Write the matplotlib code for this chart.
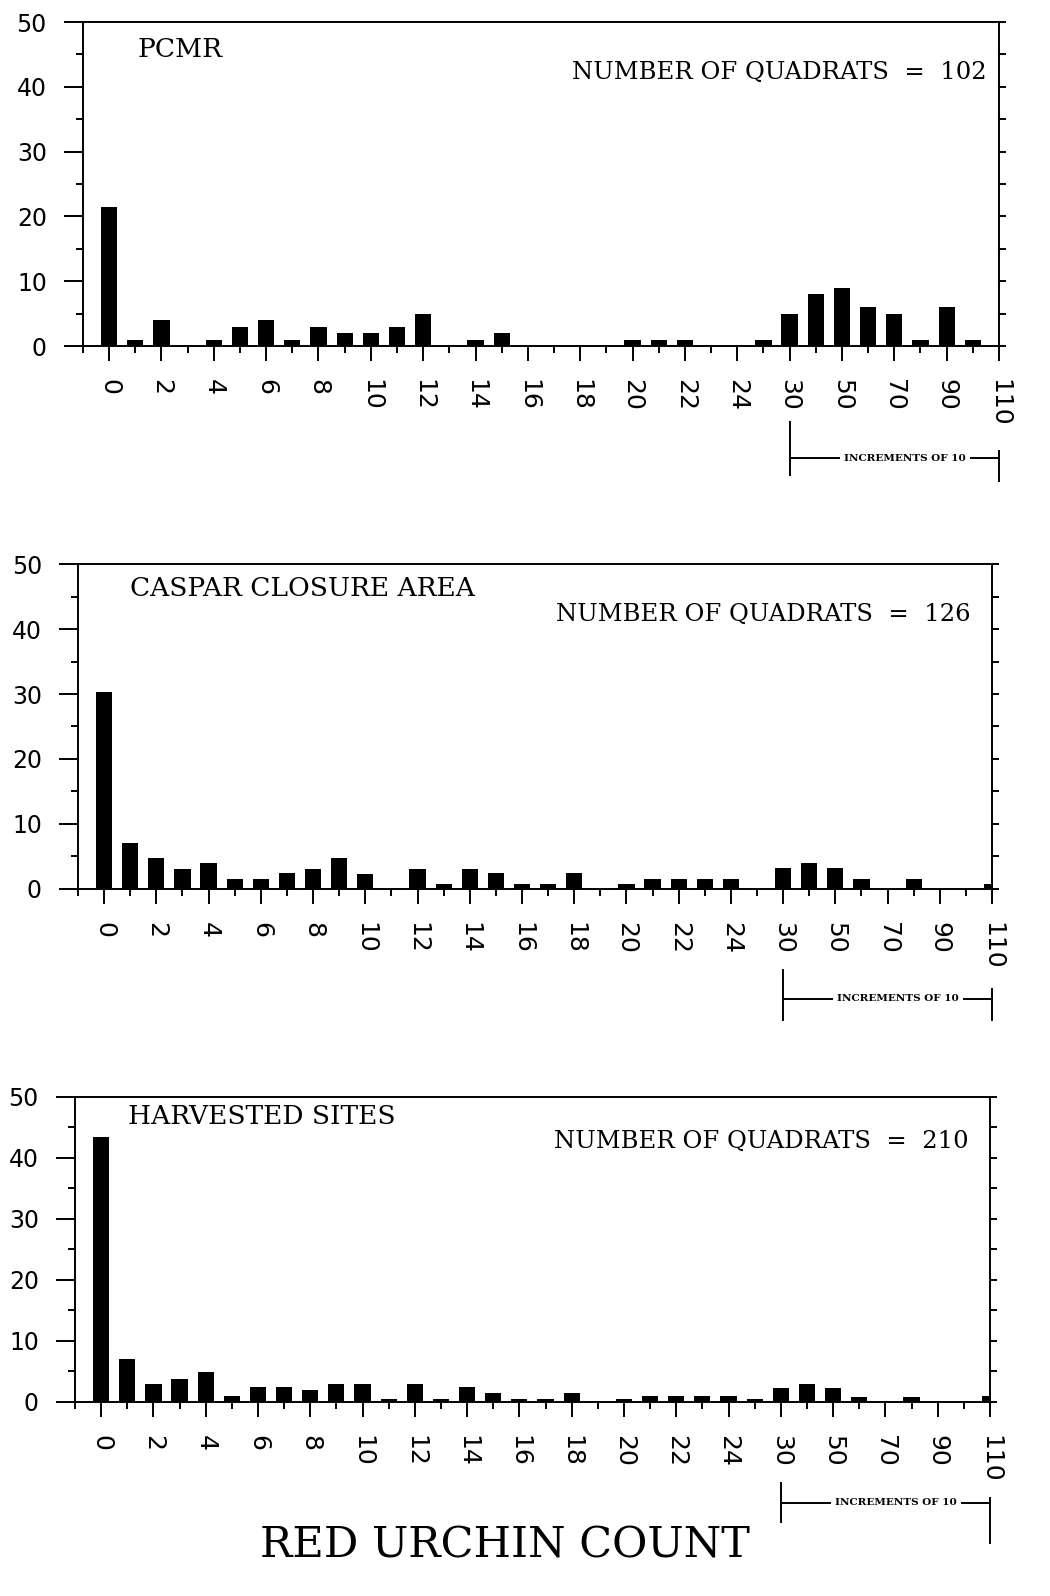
import numpy as np
import matplotlib
matplotlib.use('Agg')
import matplotlib.pyplot as plt
from matplotlib.transforms import blended_transform_factory

# red urchin count classes: 0..25 singly, then 30..110 in tens
counts = [str(i) for i in range(26)] + [str(v) for v in range(30, 111, 10)]

pcmr = [21.5, 1, 4, 0, 1, 3, 4, 1, 3, 2,
        2, 3, 5, 0, 1, 2, 0, 0, 0, 0,
        1, 1, 1, 0, 0, 1,
        5, 8, 9, 6, 5, 1, 6, 1, 0]
caspar = [30.3, 7.0, 4.7, 3.1, 4.0, 1.6, 1.6, 2.4, 3.1, 4.8,
          2.3, 0, 3.1, 0.8, 3.1, 2.4, 0.8, 0.8, 2.4, 0,
          0.8, 1.6, 1.6, 1.6, 1.6, 0,
          3.2, 4.0, 3.2, 1.6, 0, 1.6, 0, 0, 0.8]
harvested = [43.5, 7.1, 3.0, 3.8, 4.9, 1.0, 2.4, 2.4, 1.9, 3.0,
             2.9, 0.5, 3.0, 0.5, 2.4, 1.4, 0.5, 0.5, 1.4, 0,
             0.5, 0.9, 0.9, 0.9, 0.9, 0.4,
             2.3, 2.9, 2.3, 0.8, 0, 0.8, 0, 0, 0.9]

panel_names = ['PCMR', 'CASPAR CLOSURE AREA', 'HARVESTED SITES']
quadrats = [102, 126, 210]
series = [pcmr, caspar, harvested]

fig = plt.figure(figsize=(10.5, 15.96), dpi=100)
FH = 1596.0

# [left, bottom, width, height] in figure fraction
rects = [[0.079, 0.7832, 0.8724, 0.2030],
         [0.0743, 0.4430, 0.8705, 0.2036],
         [0.0714, 0.1216, 0.8714, 0.1911]]
name_pos = [(0.060, 0.915), (0.057, 0.925), (0.058, 0.935)]
quad_pos = [(0.986, 0.845), (0.977, 0.845), (0.977, 0.855)]
# bracket offsets below the axis, in pixels
brk = [(76, 129, 112, 105, 135), (81, 131, 110, 100, 131), (81, 120, 101, 96, 141)]

sans = 'DejaVu Sans'
serif = 'DejaVu Serif'

x = np.arange(len(counts))
for k in range(3):
    ax = fig.add_axes(rects[k])
    ax.bar(x, series[k], width=0.62, color='black')
    ax.set_xlim(-1, 34)
    ax.set_ylim(0, 50)
    ax.set_yticks(range(0, 51, 10))
    ax.set_yticks(range(5, 50, 10), minor=True)
    ax.set_xticks(x[::2])
    ax.set_xticklabels(counts[::2], rotation=-90, va='top', ha='center')
    ax.set_xticks(np.arange(-1, 34, 2), minor=True)
    for lab in ax.get_yticklabels():
        lab.set_fontfamily(sans)
        lab.set_fontsize(17)
    for lab in ax.get_xticklabels():
        lab.set_fontfamily(sans)
        lab.set_fontsize(18)
    ax.tick_params(axis='y', which='major', direction='out', length=14, width=1.4, pad=12)
    ax.tick_params(axis='y', which='minor', direction='out', length=5, width=1.4)
    ax.tick_params(axis='x', which='major', direction='out', length=11, width=1.4, pad=13)
    ax.tick_params(axis='x', which='minor', direction='out', length=5, width=1.4)
    for s in ax.spines.values():
        s.set_linewidth(1.4)

    # right-hand ticks are shorter
    ax2 = ax.twinx()
    ax2.set_ylim(0, 50)
    ax2.set_yticks(range(0, 51, 10))
    ax2.set_yticks(range(5, 50, 10), minor=True)
    ax2.set_yticklabels([])
    ax2.tick_params(axis='y', which='both', direction='out', length=5, width=1.4)
    for s in ax2.spines.values():
        s.set_visible(False)

    ax.text(name_pos[k][0], name_pos[k][1], panel_names[k], transform=ax.transAxes,
            fontfamily=serif, fontsize=19, ha='left', va='center')
    ax.text(quad_pos[k][0], quad_pos[k][1], 'NUMBER OF QUADRATS  =  %d' % quadrats[k],
            transform=ax.transAxes, fontfamily=serif, fontsize=17.5, ha='right', va='center')

    # "increments of 10" bracket under the 30..110 classes
    hpx = rects[k][3] * FH
    tr = blended_transform_factory(ax.transData, ax.transAxes)
    l0, l1, hy, r0, r1 = [-v / hpx for v in brk[k]]
    ax.plot([26, 26], [l0, l1], color='black', lw=1.4, transform=tr, clip_on=False)
    ax.plot([34, 34], [r0, r1], color='black', lw=1.4, transform=tr, clip_on=False)
    ax.plot([26, 34], [hy, hy], color='black', lw=1.4, transform=tr, clip_on=False)
    ax.text(30.4, hy, 'INCREMENTS OF 10', transform=tr, fontfamily=serif, fontsize=7.5,
            fontweight='bold', ha='center', va='center',
            bbox=dict(facecolor='white', edgecolor='none', pad=3))

fig.text(0.481, 1 - 1545 / FH, 'RED URCHIN COUNT', fontfamily=serif, fontsize=31,
         ha='center', va='center')

fig.savefig('out.png', dpi=100, facecolor='white')
